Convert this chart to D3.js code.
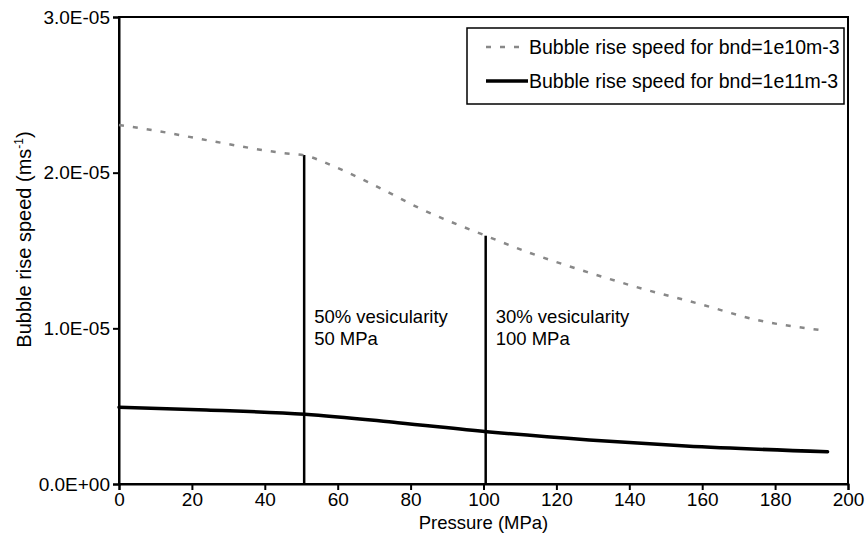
<!DOCTYPE html>
<html>
<head>
<meta charset="utf-8">
<script src="https://cdn.jsdelivr.net/npm/d3@7"></script>
<style>
  html, body { margin: 0; padding: 0; background: #fff; }
  svg { display: block; font-family: "Liberation Sans", Arial, sans-serif; }
</style>
</head>
<body>
<svg id="chart" width="865" height="548"></svg>
<script>
// ---- data ----
const pressureLow = [0, 10, 25, 45, 51, 60, 70, 82.6, 100.6, 112.8, 128.3, 143.8, 159.4, 175, 192];
const speedLow = [2.306e-5, 2.27e-5, 2.205e-5, 2.126e-5, 2.11e-5, 2.03e-5, 1.92e-5, 1.77e-5, 1.595e-5, 1.484e-5, 1.363e-5, 1.253e-5, 1.156e-5, 1.054e-5, 0.99e-5];
const pressureHigh = [0, 24, 51, 76.5, 100.9, 129, 155.5, 194.4];
const speedHigh = [0.493e-5, 0.475e-5, 0.448e-5, 0.394e-5, 0.336e-5, 0.283e-5, 0.244e-5, 0.2075e-5];
const markerPressure = [50.8, 100.6];
const markerTop = [2.113e-5, 1.595e-5];
const markerLabels = [["50% vesicularity", "50 MPa"], ["30% vesicularity", "100 MPa"]];
const seriesNames = ["Bubble rise speed for bnd=1e10m-3", "Bubble rise speed for bnd=1e11m-3"];
const xTicks = [0, 20, 40, 60, 80, 100, 120, 140, 160, 180, 200];
const yTicks = [0, 1e-5, 2e-5, 3e-5];
const xTitle = "Pressure (MPa)";

// ---- layout ----
const W = 865, H = 548;
const m = { left: 119, right: 17, top: 17, bottom: 64 };
const svg = d3.select("#chart");
const x = d3.scaleLinear().domain([0, 200]).range([m.left, W - m.right]);
const y = d3.scaleLinear().domain([0, 3e-5]).range([H - m.bottom, m.top]);

function fmtE(d) {
  if (d === 0) return "0.0E+00";
  const s = d.toExponential(1).toUpperCase();
  const [mant, exp] = s.split("E");
  const sign = exp[0] === "-" ? "-" : "+";
  const digits = exp.replace(/[+-]/, "").padStart(2, "0");
  return mant + "E" + sign + digits;
}

const fsTick = 19, fsAnn = 18.5, fsLegend = 19.5, fsTitle = 18.5;

// frame
svg.append("rect")
  .attr("x", m.left).attr("y", m.top)
  .attr("width", W - m.right - m.left).attr("height", H - m.bottom - m.top)
  .attr("fill", "none").attr("stroke", "#000").attr("stroke-width", 2);

// axes
const xAxis = svg.append("g")
  .attr("transform", `translate(0,${H - m.bottom})`)
  .call(d3.axisBottom(x).tickValues(xTicks).tickSize(6).tickPadding(3));
const yAxis = svg.append("g")
  .attr("transform", `translate(${m.left},0)`)
  .call(d3.axisLeft(y).tickValues(yTicks).tickFormat(fmtE).tickSize(6).tickPadding(3));
[xAxis, yAxis].forEach(g => {
  g.select(".domain").attr("stroke", "#000").attr("stroke-width", 2);
  g.selectAll(".tick line").attr("stroke", "#000").attr("stroke-width", 2);
  g.selectAll(".tick text").attr("fill", "#000").attr("font-size", fsTick)
    .attr("font-family", "Liberation Sans, Arial, sans-serif");
});

// axis titles
svg.append("text")
  .attr("x", x(100)).attr("y", 529)
  .attr("text-anchor", "middle").attr("font-size", fsTitle).attr("fill", "#000")
  .text(xTitle);
const yt = svg.append("text")
  .attr("transform", `translate(31,${(y(0) + y(3e-5)) / 2 - 11}) rotate(-90)`)
  .attr("text-anchor", "middle").attr("font-size", 20).attr("fill", "#000");
yt.append("tspan").text("Bubble rise speed (ms");
yt.append("tspan").attr("font-size", 12).attr("dy", -8).text("-1");
yt.append("tspan").attr("dy", 8).text(")");

// marker vertical lines
svg.selectAll(".marker").data(markerPressure).enter().append("line")
  .attr("x1", d => x(d)).attr("x2", d => x(d))
  .attr("y1", y(0)).attr("y2", (d, i) => y(markerTop[i]))
  .attr("stroke", "#000").attr("stroke-width", 2.5);

// marker labels
markerPressure.forEach((p, i) => {
  const t = svg.append("text").attr("font-size", fsAnn).attr("fill", "#000");
  markerLabels[i].forEach((s, j) => {
    t.append("tspan").attr("x", x(p) + 10).attr("y", y(1.034e-5) + j * 22).text(s);
  });
});

// lines
const lineGen = d3.line().x(d => x(d[0])).y(d => y(d[1])).curve(d3.curveMonotoneX);
svg.append("path")
  .datum(d3.zip(pressureLow, speedLow))
  .attr("d", lineGen).attr("fill", "none")
  .attr("stroke", "#888").attr("stroke-width", 2.5).attr("stroke-dasharray", "5,9");
svg.append("path")
  .datum(d3.zip(pressureHigh, speedHigh))
  .attr("d", lineGen).attr("fill", "none")
  .attr("stroke", "#000").attr("stroke-width", 3.5).attr("stroke-linecap", "round");

// legend
const lg = svg.append("g");
lg.append("rect").attr("x", 467).attr("y", 28).attr("width", 377).attr("height", 76)
  .attr("fill", "#fff").attr("stroke", "#000").attr("stroke-width", 1.5);
const legendStyles = [
  { stroke: "#888", width: 2.5, dash: "5,9" },
  { stroke: "#000", width: 3.5, dash: null }
];
seriesNames.forEach((name, i) => {
  const cy = 47 + i * 34;
  lg.append("line").attr("x1", 486).attr("x2", 528).attr("y1", cy).attr("y2", cy)
    .attr("stroke", legendStyles[i].stroke).attr("stroke-width", legendStyles[i].width)
    .attr("stroke-dasharray", legendStyles[i].dash);
  lg.append("text").attr("x", 529).attr("y", cy).attr("dy", "0.35em")
    .attr("font-size", fsLegend).attr("fill", "#000").text(name);
});
</script>
</body>
</html>
